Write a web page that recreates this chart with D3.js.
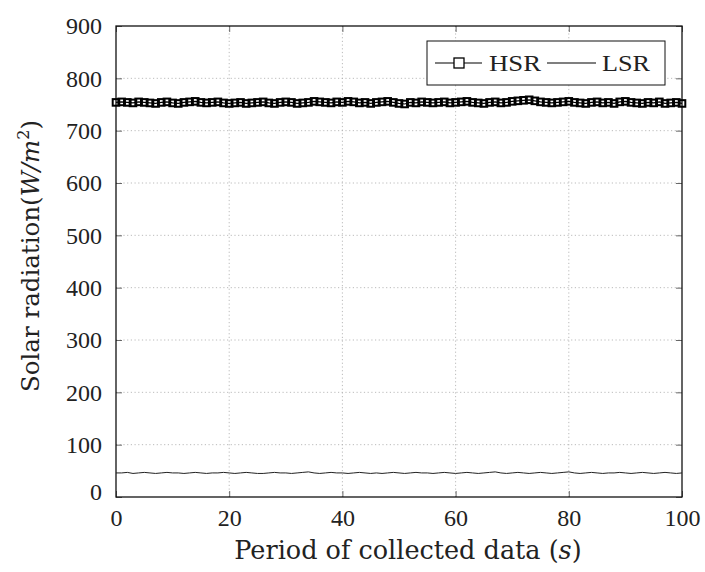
<!DOCTYPE html>
<html><head><meta charset="utf-8">
<script src="https://cdn.jsdelivr.net/npm/d3@7"></script>
<style>body{margin:0;background:#fff;} svg{display:block;} text{fill:#222;}</style>
</head><body><svg id="c" width="705" height="572" font-family="Liberation Serif"></svg>
<script>
const xTicks = [0, 20, 40, 60, 80, 100];
const yTicks = [0, 100, 200, 300, 400, 500, 600, 700, 800, 900];
const seconds = d3.range(0, 101);
const hsr = [754,755,754,753,755,754,753,752,754,755,753,752,754,755,756,754,753,754,755,753,
             752,753,754,752,753,754,755,753,752,754,755,754,752,753,754,756,755,754,753,755,
             754,756,755,753,754,752,754,755,756,754,752,751,754,753,755,754,753,754,755,753,
             754,755,756,754,753,752,754,755,753,754,756,757,758,759,757,755,754,753,754,755,
             756,754,753,752,754,755,753,754,752,755,756,754,753,752,754,753,755,752,753,754,752];
const lsr = [46,46,47,45,46,47,46,45,46,47,46,46,45,46,47,46,45,46,46,47,
             46,45,46,47,46,45,45,46,47,46,46,45,46,47,48,46,45,46,47,46,
             46,45,46,47,46,45,46,45,46,47,46,45,46,47,46,46,45,46,47,46,
             45,46,47,46,45,46,47,48,46,45,46,47,46,45,46,47,46,45,46,47,
             48,46,45,46,47,46,45,46,46,47,46,45,46,47,46,45,46,47,46,45,46];
const seriesNames = ["HSR", "LSR"];

const svg = d3.select("#c");
const L = 116, R = 682, T = 26, B = 497;
const x = d3.scaleLinear().domain([0, 100]).range([L, R]);
const y = d3.scaleLinear().domain([0, 900]).range([B, T]);

// grid
const g = svg.append("g");
g.selectAll(".gx").data(xTicks.slice(1, -1)).join("line")
  .attr("x1", d => x(d)).attr("x2", d => x(d)).attr("y1", T).attr("y2", B)
  .attr("stroke", "#aaa").attr("stroke-width", 0.8).attr("stroke-dasharray", "1.2,2.5");
g.selectAll(".gy").data(yTicks.slice(1, -1)).join("line")
  .attr("y1", d => y(d)).attr("y2", d => y(d)).attr("x1", L).attr("x2", R)
  .attr("stroke", "#aaa").attr("stroke-width", 0.8).attr("stroke-dasharray", "1.2,2.5");

// axes (inward ticks on all sides)
const fs = 24;
const ax = svg.append("g").attr("transform", `translate(0,${B})`)
  .call(d3.axisBottom(x).tickValues(xTicks).tickSize(-6).tickPadding(12).tickFormat(d3.format("d")));
const axT = svg.append("g").attr("transform", `translate(0,${T})`)
  .call(d3.axisTop(x).tickValues(xTicks).tickSize(-6).tickFormat(""));
const ay = svg.append("g").attr("transform", `translate(${L},0)`)
  .call(d3.axisLeft(y).tickValues(yTicks).tickSize(-6).tickPadding(14).tickFormat(d3.format("d")));
const ayR = svg.append("g").attr("transform", `translate(${R},0)`)
  .call(d3.axisRight(y).tickValues(yTicks).tickSize(-6).tickFormat(""));
[ax, axT, ay, ayR].forEach(a => {
  a.attr("font-family", null).attr("font-size", null);
  a.select(".domain").remove();
  a.selectAll("line").attr("stroke", "#444").attr("stroke-width", 0.8);
  a.selectAll("text").style("font-size", fs + "px").style("font-family", "Liberation Serif").style("fill", "#222");
});
ay.selectAll(".tick").filter(d => d === 0).select("text").attr("dy", "0.1em");

// frame
svg.append("rect").attr("x", L).attr("y", T).attr("width", R - L).attr("height", B - T)
  .attr("fill", "none").attr("stroke", "#111").attr("stroke-width", 1.3);

// LSR
const line = d3.line().x((d, i) => x(seconds[i])).y(d => y(d));
svg.append("path").datum(lsr).attr("d", line).attr("fill", "none").attr("stroke", "#222").attr("stroke-width", 1);

// HSR
svg.append("path").datum(hsr).attr("d", line).attr("fill", "none").attr("stroke", "#000").attr("stroke-width", 1.2);
svg.selectAll(".m").data(hsr).join("rect")
  .attr("x", (d, i) => x(seconds[i]) - 3.3).attr("y", d => y(d) - 3.3)
  .attr("width", 6.6).attr("height", 6.6)
  .attr("fill", "none").attr("stroke", "#000").attr("stroke-width", 2);

// legend
const lg = svg.append("g");
lg.append("rect").attr("x", 427).attr("y", 41).attr("width", 238).attr("height", 44)
  .attr("fill", "#fff").attr("stroke", "#111").attr("stroke-width", 1);
lg.append("line").attr("x1", 435).attr("x2", 482).attr("y1", 63).attr("y2", 63).attr("stroke", "#000").attr("stroke-width", 1.2);
lg.append("rect").attr("x", 454).attr("y", 58).attr("width", 10).attr("height", 10)
  .attr("fill", "#fff").attr("stroke", "#000").attr("stroke-width", 1.3);
lg.append("text").attr("x", 489).attr("y", 71).style("font-size", fs + "px")
  .attr("textLength", 52).attr("lengthAdjust", "spacingAndGlyphs").text(seriesNames[0]);
lg.append("line").attr("x1", 547).attr("x2", 596).attr("y1", 63).attr("y2", 63).attr("stroke", "#000").attr("stroke-width", 1.2);
lg.append("text").attr("x", 602).attr("y", 71).style("font-size", fs + "px")
  .attr("textLength", 48).attr("lengthAdjust", "spacingAndGlyphs").text(seriesNames[1]);

// axis titles
svg.append("text").attr("x", 408).attr("y", 559).attr("text-anchor", "middle")
  .style("font-size", "25.5px").style("font-family", "DejaVu Serif").style("font-weight", 300)
  .html('Period of collected data (<tspan font-style="italic">s</tspan>)');
const yt = svg.append("text").attr("transform", "translate(39,256) rotate(-90)")
  .attr("text-anchor", "middle").style("font-size", "24.5px").style("font-family", "DejaVu Serif");
yt.append("tspan").text("Solar radiation(");
yt.append("tspan").attr("font-style", "italic").text("W/m");
yt.append("tspan").style("font-size", "16px").attr("dy", -10).text("2");
yt.append("tspan").attr("dy", 10).text(")");
</script></body></html>
